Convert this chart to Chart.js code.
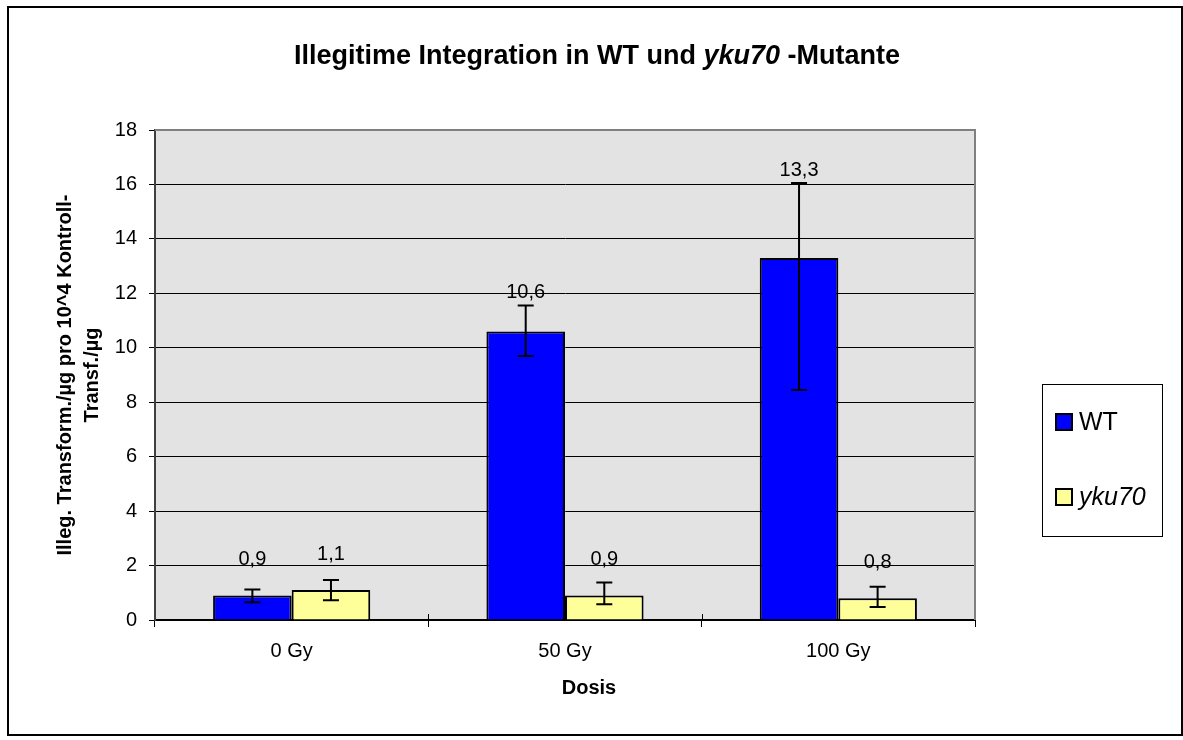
<!DOCTYPE html>
<html>
<head>
<meta charset="utf-8">
<script src="https://cdn.jsdelivr.net/npm/chart.js@4.4.1/dist/chart.umd.min.js"></script>
<style>
  html, body { margin: 0; padding: 0; background: #fff; }
  #wrap { width: 1183px; height: 740px; position: relative; }
</style>
</head>
<body>
<div id="wrap"><canvas id="chart_0" width="1183" height="740"></canvas></div>
<script>
var doses = ["0 Gy", "50 Gy", "100 Gy"];
var wtValues = [0.9, 10.6, 13.3];
var wtErrPlus = [0.22, 0.95, 2.75];
var wtErrMinus = [0.25, 0.9, 4.85];
var ykuValues = [1.1, 0.9, 0.8];
var ykuErrPlus = [0.37, 0.48, 0.42];
var ykuErrMinus = [0.37, 0.32, 0.32];
var yTicks = [0, 2, 4, 6, 8, 10, 12, 14, 16, 18];

var FONT = "'Liberation Sans', Arial, sans-serif";

// frame, plot background, title, legend, error bars and value labels
var decor = {
  id: "decor",
  beforeDraw: function (chart) {
    var ctx = chart.ctx, a = chart.chartArea;
    ctx.save();
    ctx.fillStyle = "#ffffff";
    ctx.fillRect(0, 0, chart.width, chart.height);
    ctx.fillStyle = "#e3e3e3";
    ctx.fillRect(a.left, a.top, a.right - a.left, a.bottom - a.top);
    ctx.restore();
  },
  afterDatasetsDraw: function (chart) {
    var ctx = chart.ctx, y = chart.scales.y;
    var errs = [[wtErrPlus, wtErrMinus], [ykuErrPlus, ykuErrMinus]];
    ctx.save();
    chart.data.datasets.forEach(function (ds, i) {
      var meta = chart.getDatasetMeta(i);
      meta.data.forEach(function (bar, j) {
        var v = ds.data[j];
        var top = y.getPixelForValue(v + errs[i][0][j]);
        var bot = y.getPixelForValue(v - errs[i][1][j]);
        ctx.strokeStyle = "#000";
        ctx.lineWidth = 2;
        ctx.beginPath();
        ctx.moveTo(bar.x, top); ctx.lineTo(bar.x, bot);
        ctx.moveTo(bar.x - 8, top); ctx.lineTo(bar.x + 8, top);
        ctx.moveTo(bar.x - 8, bot); ctx.lineTo(bar.x + 8, bot);
        ctx.stroke();
        var ly = Math.min(bar.y - 36, top - 13);
        ctx.fillStyle = "#000";
        ctx.font = "20px " + FONT;
        ctx.textAlign = "center";
        ctx.textBaseline = "middle";
        ctx.fillText(String(v).replace(".", ","), bar.x, ly);
      });
    });
    ctx.restore();
  },
  afterDraw: function (chart) {
    var ctx = chart.ctx, a = chart.chartArea;
    ctx.save();
    // plot border top / right
    ctx.strokeStyle = "#808080";
    ctx.lineWidth = 2;
    ctx.beginPath();
    ctx.moveTo(a.left, a.top); ctx.lineTo(a.right, a.top); ctx.lineTo(a.right, a.bottom);
    ctx.stroke();
    // category separators cross the x axis
    ctx.strokeStyle = "#000";
    ctx.lineWidth = 1;
    var step = (a.right - a.left) / doses.length;
    ctx.beginPath();
    for (var k = 1; k < doses.length; k++) {
      var gx = Math.round(a.left + k * step) + 0.5;
      ctx.moveTo(gx, a.bottom - 6); ctx.lineTo(gx, a.bottom);
    }
    ctx.stroke();
    // outer frame
    ctx.lineWidth = 2;
    ctx.strokeRect(8, 7, 1174, 728);

    // title with italic part
    var parts = [
      ["Illegitime Integration in WT und ", "bold"],
      ["yku70", "italic bold"],
      [" -Mutante", "bold"]
    ];
    var total = 0;
    parts.forEach(function (p) {
      ctx.font = p[1] + " 27px " + FONT;
      p.push(ctx.measureText(p[0]).width);
      total += p[2];
    });
    var x = 597 - total / 2;
    ctx.fillStyle = "#000";
    ctx.textBaseline = "alphabetic";
    ctx.textAlign = "left";
    parts.forEach(function (p) {
      ctx.font = p[1] + " 27px " + FONT;
      ctx.fillText(p[0], x, 64);
      x += p[2];
    });

    // x axis title
    ctx.font = "bold 20px " + FONT;
    ctx.textAlign = "center";
    ctx.textBaseline = "middle";
    ctx.fillText("Dosis", 589, 688);

    // legend
    ctx.textAlign = "left";
    ctx.strokeStyle = "#000";
    ctx.lineWidth = 1;
    ctx.strokeRect(1042.5, 384.5, 120, 152);
    var rows = [422, 497];
    var styles = ["", "italic "];
    chart.data.datasets.forEach(function (ds, i) {
      ctx.fillStyle = ds.backgroundColor;
      ctx.fillRect(1056, rows[i] - 8, 16, 16);
      ctx.strokeStyle = "#000";
      ctx.lineWidth = 2;
      ctx.strokeRect(1056, rows[i] - 8, 16, 16);
      ctx.fillStyle = "#000";
      ctx.font = styles[i] + "25px " + FONT;
      ctx.textBaseline = "middle";
      ctx.fillText(ds.label, 1079, rows[i] + 1);
    });
    ctx.restore();
  }
};

new Chart("chart_0", {
  type: "bar",
  data: {
    labels: doses,
    datasets: [{
      label: "WT",
      data: wtValues,
      backgroundColor: "#0000ff",
      borderColor: "#000",
      borderWidth: 2
    }, {
      label: "yku70",
      data: ykuValues,
      backgroundColor: "#ffff99",
      borderColor: "#000",
      borderWidth: 2
    }]
  },
  options: {
    responsive: false,
    animation: false,
    layout: { padding: { left: 10, top: 130, right: 208, bottom: 0 } },
    plugins: {
      legend: { display: false },
      title: { display: false },
      tooltip: { enabled: false }
    },
    datasets: {
      bar: { categoryPercentage: 0.575, barPercentage: 1 }
    },
    scales: {
      x: {
        afterFit: function (s) { s.height = 120; },
        grid: { display: true, drawOnChartArea: false, offset: true, tickLength: 7, color: "#000" },
        border: { color: "#000", width: 2 },
        ticks: { color: "#000", font: { family: FONT, size: 20 }, padding: 12 },
        title: { display: false }
      },
      y: {
        min: 0, max: 18,
        afterFit: function (s) { s.width = 145; },
        afterBuildTicks: function (s) { s.ticks = yTicks.map(function (v) { return { value: v }; }); },
        grid: { color: "#000", lineWidth: 1, tickLength: 6, tickColor: "#000" },
        border: { color: "#404040", width: 2 },
        ticks: { color: "#000", font: { family: FONT, size: 20 }, padding: 12 },
        title: {
          display: true,
          text: ["Illeg. Transform./µg pro 10^4 Kontroll-", "Transf./µg"],
          color: "#000",
          font: { family: FONT, size: 20, weight: "bold", lineHeight: 1.35 },
          padding: { top: 42, bottom: 0 }
        }
      }
    }
  },
  plugins: [decor]
});
</script>
</body>
</html>
